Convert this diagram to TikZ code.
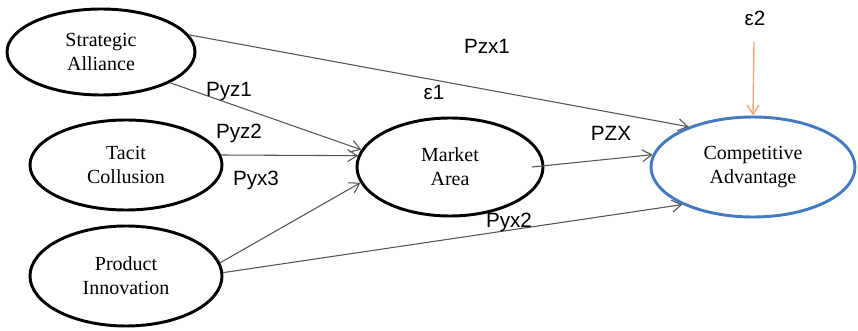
\documentclass[tikz,border=0pt]{standalone}
\usepackage{fontspec}
\setmainfont{Liberation Serif}
\newfontfamily\labelfont{Liberation Sans}
\usetikzlibrary{shapes.geometric,arrows.meta}

\definecolor{cablue}{RGB}{68,122,190}
\definecolor{errorange}{RGB}{246,165,115}
\definecolor{pathgray}{RGB}{85,85,85}

\tikzset{every picture/.style={line width=0.75pt}}
\tikzset{
	construct/.style={draw, ellipse, line width=2.2pt, inner sep=0pt, align=center,
		font=\fontsize{15}{18}\selectfont},
	coef/.style={font=\labelfont\fontsize{15.5}{17}\selectfont, inner sep=1pt},
	pathline/.style={draw=pathgray, line width=0.8pt, -{Straight Barb[length=7pt,width=9pt]}}
}

\begin{document}
\begin{tikzpicture}[x=0.75pt,y=0.75pt,yscale=-1,xscale=1]
	\useasboundingbox (0,0) rectangle (858,331);

	%Shape: Ellipse [id:sa]
	\node [construct, minimum width=141pt, minimum height=64.5pt] (sa) at (101,52) {Strategic\\Alliance};
	%Shape: Ellipse [id:tc]
	\node [construct, minimum width=144pt, minimum height=67.5pt] (tc) at (126,165) {Tacit\\Collusion};
	%Shape: Ellipse [id:pi]
	\node [construct, minimum width=144pt, minimum height=75pt] (pi) at (126,276) {Product\\Innovation};
	%Shape: Ellipse [id:ma]
	\node [construct, minimum width=139.5pt, minimum height=73.5pt] (ma) at (450,167) {Market\\Area};
	%Shape: Ellipse [id:ca]
	\node [construct, draw=cablue, minimum width=153pt, minimum height=75pt] (ca) at (753,167) {Competitive\\Advantage};

	% Text Node
	\node [coef] (e2) at (755,18) {ε2};
	\coordinate (e2tail) at (754,42);
	\coordinate (mastart) at (532,167);

	%Straight Lines [id:sa-ca]
	\draw [pathline] (sa.11) -- (ca.148);
	%Straight Lines [id:sa-ma]
	\draw [pathline] (sa.-24) -- (ma.169);
	%Straight Lines [id:tc-ma]
	\draw [pathline] (tc.6) -- (ma.173);
	%Straight Lines [id:pi-ma]
	\draw [pathline] (pi.8) -- (ma.190);
	%Straight Lines [id:pi-ca]
	\draw [pathline] (pi.2) -- (ca.208);
	%Straight Lines [id:ma-ca]
	\draw [pathline] (mastart) -- (ca.173);
	%Straight Lines [id:e2-ca]
	\draw [pathline, draw=errorange, line width=1pt] (e2tail) -- (ca.north);

	% Text Node
	\node [coef] (pzx1) at (487,46) {Pzx1};
	% Text Node
	\node [coef] (pyz1) at (229,92) {Pyz1};
	% Text Node
	\node [coef] (e1) at (434,92) {ε1};
	% Text Node
	\node [coef] (pyz2) at (239,133) {Pyz2};
	% Text Node
	\node [coef] (pzx) at (611,133) {PZX};
	% Text Node
	\node [coef] (pyx3) at (256,180) {Pyx3};
	% Text Node
	\node [coef] (pyx2) at (509,222) {Pyx2};

\end{tikzpicture}
\end{document}
